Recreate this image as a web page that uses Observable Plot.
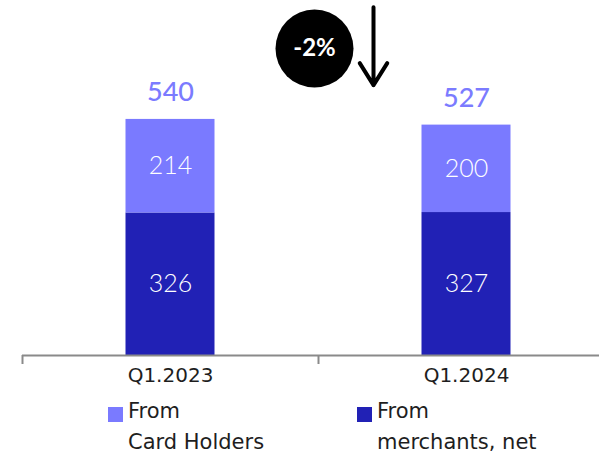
<!DOCTYPE html>
<html>
<head>
<meta charset="utf-8">
<script src="https://cdn.jsdelivr.net/npm/d3@7"></script>
<script src="https://cdn.jsdelivr.net/npm/@observablehq/plot@0.6"></script>
<style>
  html, body { margin: 0; padding: 0; background: #fff; }
  #wrap { width: 599px; height: 455px; position: relative; overflow: hidden; font-family: Lato, sans-serif; }
  .legend { position: absolute; top: 396px; left: 0; width: 599px; height: 59px; font-family: "DejaVu Sans", sans-serif; font-size: 21px; line-height: 31px; color: #1e1e1e; }
  .item { position: absolute; top: 0; }
  .sw { position: absolute; left: 0; top: 11px; width: 15px; height: 15px; }
  .lbl { position: absolute; left: 20px; top: 0; white-space: nowrap; }
</style>
</head>
<body>
<div id="wrap"></div>
<script>
const quarters = ["Q1.2023", "Q1.2024"];
const fromMerchants = [326, 327];
const fromCardHolders = [214, 200];
const totals = [540, 527];
const change = "-2%";
const seriesNames = ["From merchants, net", "From Card Holders"];
const seriesColors = ["#2121b5", "#7a7aff"];

const rows = [];
quarters.forEach((q, i) => rows.push({quarter: q, type: seriesNames[0], value: fromMerchants[i]}));
quarters.forEach((q, i) => rows.push({quarter: q, type: seriesNames[1], value: fromCardHolders[i]}));

const maxTotal = d3.max(totals);

const chart = Plot.plot({
  width: 599,
  height: 396,
  marginLeft: 22,
  marginRight: 0,
  marginTop: 0,
  marginBottom: 41,
  style: {fontFamily: "Lato, sans-serif", background: "transparent"},
  x: {type: "band", domain: quarters, range: [22, 614], padding: 0, axis: null},
  y: {domain: [0, 812], axis: null},
  color: {domain: seriesNames, range: seriesColors},
  marks: [
    Plot.barY(rows, {x: "quarter", y: "value", fill: "type", insetLeft: 103.5, insetRight: 103.5, order: null}),
    Plot.text(rows, Plot.stackY({x: "quarter", y: "value", z: "type", text: "value", order: null, fill: "white", fontSize: 25, fontWeight: 300})),
    Plot.text(totals, {x: (d, i) => quarters[i], y: d => d, text: d => String(d), dy: -27, fill: "#7b7bff", fontSize: 27, fontWeight: 500}),
    Plot.ruleY([0], {stroke: "#8a8a8a", strokeWidth: 2}),
    Plot.ruleX(quarters, {x: d => d, y1: 0, y2: 0, insetBottom: -9, dx: -148, stroke: "#8a8a8a", strokeWidth: 2}),
    Plot.text(quarters, {x: d => d, frameAnchor: "bottom", dy: 26, text: d => d, fill: "#1e1e1e", fontSize: 20, fontFamily: "DejaVu Sans"}),
    Plot.dot([change], {x: () => quarters[1], y: () => maxTotal * 1.3, dx: -152, r: 39, fill: "black", stroke: null}),
    Plot.text([change], {x: () => quarters[1], y: () => maxTotal * 1.3, dx: -152, text: d => d, fill: "white", fontSize: 24, fontWeight: 700}),
    Plot.arrow([change], {x1: () => quarters[1], x2: () => quarters[1], y1: () => maxTotal * 1.475, y2: () => maxTotal * 1.145, dx: -93, stroke: "black", strokeWidth: 4, headLength: 27, headAngle: 64})
  ]
});
document.getElementById("wrap").appendChild(chart);

const legend = document.createElement("div");
legend.className = "legend";
const legendItems = [
  {lines: ["From", "Card Holders"], color: seriesColors[1], left: 108},
  {lines: ["From", "merchants, net"], color: seriesColors[0], left: 357}
];
legendItems.forEach(it => {
  const d = document.createElement("div");
  d.className = "item";
  d.style.left = it.left + "px";
  const sw = document.createElement("div");
  sw.className = "sw";
  sw.style.background = it.color;
  const lb = document.createElement("div");
  lb.className = "lbl";
  lb.innerHTML = it.lines.join("<br>");
  d.appendChild(sw); d.appendChild(lb);
  legend.appendChild(d);
});
document.getElementById("wrap").appendChild(legend);
</script>
</body>
</html>
